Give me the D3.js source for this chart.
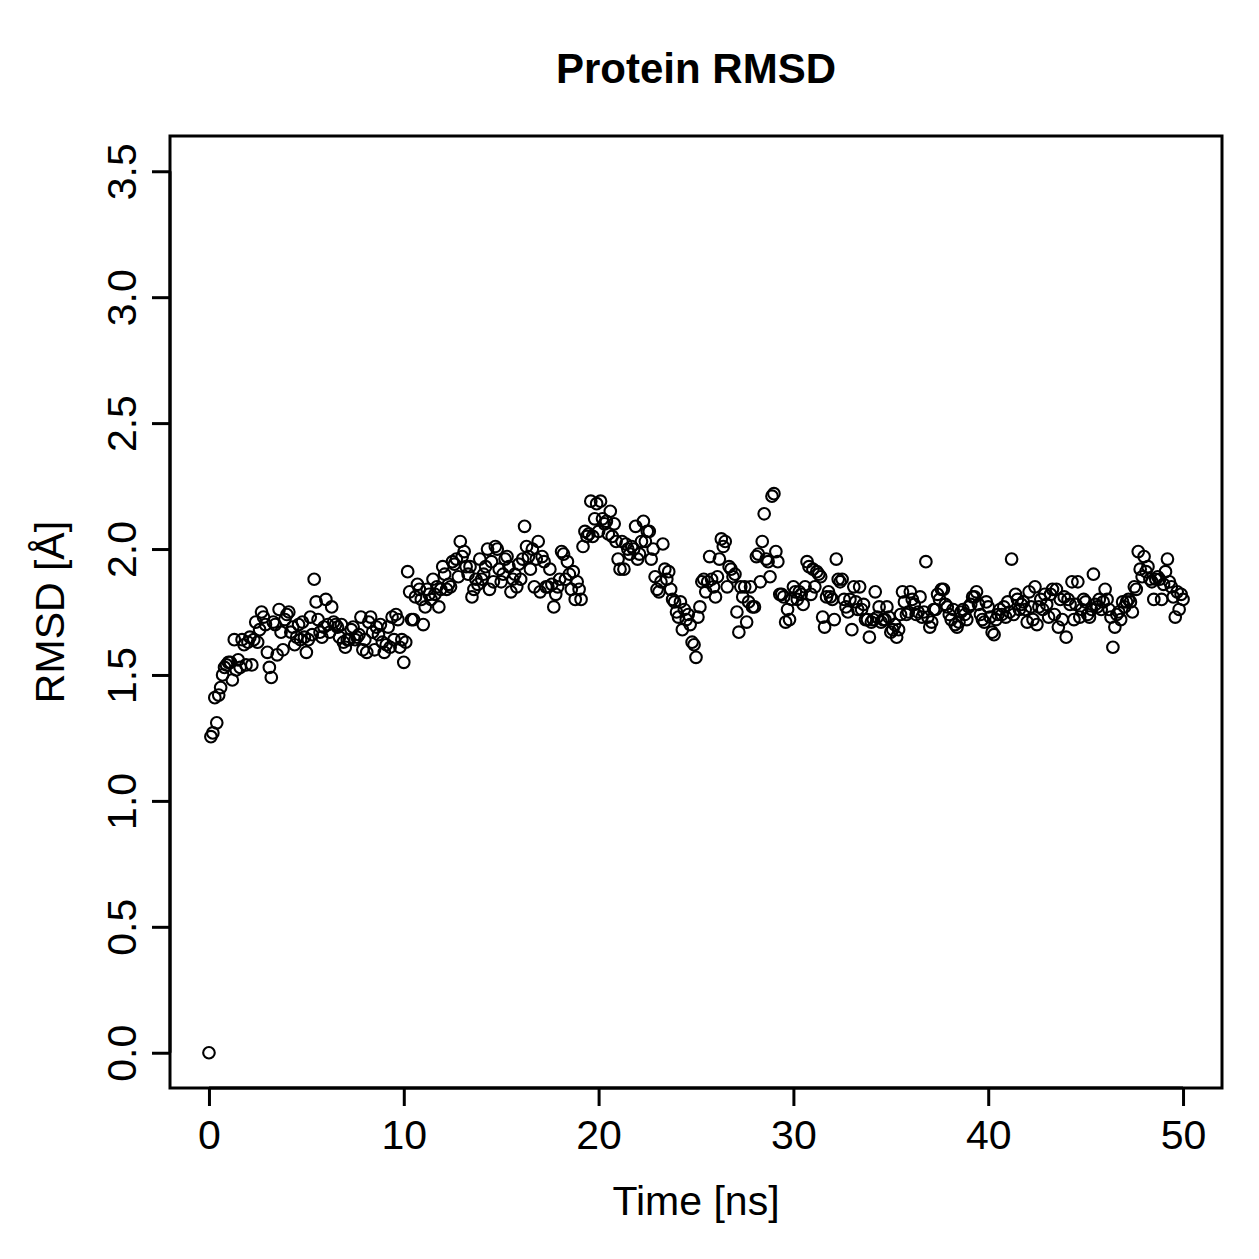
<!DOCTYPE html>
<html>
<head>
<meta charset="utf-8">
<script src="https://cdn.jsdelivr.net/npm/d3@7"></script>
<style>
  html, body { margin: 0; padding: 0; background: #fff; }
  svg { display: block; }
  text { font-family: "Liberation Sans", Arial, Helvetica, sans-serif; fill: #000; }
</style>
</head>
<body>
<svg id="chart" width="1259" height="1259"></svg>
<script>
// ---- data ----
const chartTitle = "Protein RMSD";
const xLabel = "Time [ns]";
const yLabel = "RMSD [Å]";
const timeStep = 0.1; // ns between frames, starting at 0
const xTicks = [0, 10, 20, 30, 40, 50];
const yTicks = [0.0, 0.5, 1.0, 1.5, 2.0, 2.5, 3.0, 3.5];
const yTickLabels = ["0.0", "0.5", "1.0", "1.5", "2.0", "2.5", "3.0", "3.5"];
const xLimits = [0, 50];
const yLimits = [0, 3.5];
const rmsd = [
  0.00, 1.255, 1.27, 1.41, 1.31, 1.42, 1.45, 1.50, 1.53, 1.54,
  1.55, 1.55, 1.48, 1.64, 1.52, 1.56, 1.53, 1.64, 1.62, 1.54,
  1.63, 1.65, 1.54, 1.64, 1.71, 1.63, 1.68, 1.75, 1.73, 1.70,
  1.59, 1.53, 1.49, 1.71, 1.70, 1.58, 1.76, 1.67, 1.60, 1.72,
  1.74, 1.75, 1.67, 1.69, 1.62, 1.65, 1.70, 1.64, 1.71, 1.65,
  1.59, 1.64, 1.73, 1.66, 1.88, 1.79, 1.72, 1.67, 1.65, 1.69,
  1.80, 1.70, 1.67, 1.77, 1.71, 1.70, 1.69, 1.65, 1.70, 1.63,
  1.61, 1.64, 1.64, 1.68, 1.69, 1.64, 1.65, 1.66, 1.73, 1.60,
  1.64, 1.59, 1.71, 1.73, 1.67, 1.60, 1.69, 1.66, 1.70, 1.63,
  1.59, 1.62, 1.69, 1.61, 1.73, 1.64, 1.74, 1.72, 1.61, 1.64,
  1.55, 1.63, 1.91, 1.83, 1.72, 1.72, 1.81, 1.86, 1.84, 1.80,
  1.70, 1.77, 1.84, 1.82, 1.80, 1.88, 1.82, 1.85, 1.77, 1.84,
  1.93, 1.90, 1.84, 1.86, 1.85, 1.95, 1.94, 1.96, 1.89, 2.03,
  1.97, 1.99, 1.93, 1.90, 1.93, 1.81, 1.84, 1.88, 1.86, 1.96,
  1.88, 1.90, 1.93, 2.00, 1.84, 1.95, 1.87, 2.01, 2.00, 1.92,
  1.87, 1.90, 1.96, 1.97, 1.93, 1.83, 1.88, 1.90, 1.85, 1.94,
  1.88, 1.96, 2.09, 2.01, 1.97, 1.92, 2.00, 1.85, 1.96, 2.03,
  1.83, 1.97, 1.95, 1.85, 1.85, 1.92, 1.86, 1.77, 1.82, 1.85,
  1.88, 1.99, 1.98, 1.88, 1.95, 1.90, 1.84, 1.91, 1.80, 1.87,
  1.84, 1.80, 2.01, 2.07, 2.05, 2.06, 2.19, 2.05, 2.12, 2.18,
  2.07, 2.19, 2.12, 2.10, 2.11, 2.06, 2.15, 2.05, 2.10, 2.03,
  1.96, 1.92, 2.03, 1.92, 2.02, 2.00, 1.98, 2.01, 2.00, 2.09,
  1.96, 1.98, 2.03, 2.11, 2.03, 2.07, 2.07, 1.96, 2.00, 1.89,
  1.84, 1.83, 1.87, 2.02, 1.92, 1.88, 1.91, 1.84, 1.80, 1.79,
  1.75, 1.73, 1.79, 1.68, 1.76, 1.72, 1.74, 1.70, 1.63, 1.62,
  1.57, 1.73, 1.77, 1.87, 1.88, 1.83, 1.87, 1.97, 1.88, 1.85,
  1.81, 1.89, 1.96, 2.04, 2.01, 2.03, 1.85, 1.93, 1.92, 1.89,
  1.90, 1.75, 1.67, 1.85, 1.81, 1.85, 1.71, 1.79, 1.85, 1.77,
  1.77, 1.97, 1.98, 1.87, 2.03, 2.14, 1.96, 1.95, 1.89, 2.21,
  2.22, 1.99, 1.95, 1.82, 1.82, 1.81, 1.71, 1.76, 1.72, 1.80,
  1.85, 1.83, 1.80, 1.83, 1.82, 1.78, 1.85, 1.95, 1.93, 1.82,
  1.92, 1.85, 1.91, 1.90, 1.89, 1.73, 1.69, 1.81, 1.83, 1.81,
  1.80, 1.72, 1.96, 1.88, 1.87, 1.88, 1.80, 1.77, 1.75, 1.80,
  1.68, 1.85, 1.79, 1.76, 1.85, 1.76, 1.78, 1.72, 1.72, 1.65,
  1.71, 1.72, 1.83, 1.73, 1.77, 1.71, 1.72, 1.72, 1.77, 1.73,
  1.67, 1.68, 1.70, 1.65, 1.68, 1.74, 1.83, 1.79, 1.74, 1.75,
  1.83, 1.80, 1.78, 1.74, 1.75, 1.81, 1.73, 1.75, 1.95, 1.73,
  1.69, 1.71, 1.76, 1.76, 1.82, 1.80, 1.84, 1.84, 1.78, 1.77,
  1.74, 1.72, 1.76, 1.70, 1.69, 1.71, 1.75, 1.76, 1.74, 1.72,
  1.77, 1.78, 1.81, 1.81, 1.83, 1.78, 1.74, 1.72, 1.71, 1.79,
  1.77, 1.73, 1.67, 1.66, 1.72, 1.74, 1.76, 1.74, 1.77, 1.73,
  1.79, 1.75, 1.96, 1.74, 1.82, 1.80, 1.76, 1.78, 1.79, 1.76,
  1.71, 1.83, 1.77, 1.72, 1.85, 1.70, 1.77, 1.80, 1.76, 1.82,
  1.78, 1.73, 1.82, 1.84, 1.74, 1.84, 1.69, 1.80, 1.72, 1.81,
  1.65, 1.80, 1.78, 1.87, 1.72, 1.78, 1.87, 1.73, 1.76, 1.80,
  1.79, 1.74, 1.73, 1.76, 1.90, 1.78, 1.77, 1.80, 1.76, 1.79,
  1.84, 1.80, 1.76, 1.73, 1.61, 1.69, 1.74, 1.75, 1.72, 1.79,
  1.77, 1.79, 1.80, 1.79, 1.75, 1.85, 1.84, 1.99, 1.92, 1.89,
  1.97, 1.91, 1.93, 1.88, 1.87, 1.80, 1.88, 1.89, 1.88, 1.80,
  1.86, 1.91, 1.96, 1.87, 1.85, 1.81, 1.73, 1.83, 1.76, 1.82,
  1.80
];

// ---- layout ----
const svg = d3.select("#chart");
const plot = { left: 170, right: 1222, top: 136, bottom: 1088 };
const padX = (xLimits[1] - xLimits[0]) * 0.04;
const padY = (yLimits[1] - yLimits[0]) * 0.04;

const x = d3.scaleLinear()
  .domain([xLimits[0] - padX, xLimits[1] + padX])
  .range([plot.left, plot.right]);
const y = d3.scaleLinear()
  .domain([yLimits[0] - padY, yLimits[1] + padY])
  .range([plot.bottom, plot.top]);

const points = rmsd.map((v, i) => ({ t: +(i * timeStep).toFixed(1), v }));

// points
svg.append("g")
  .selectAll("circle")
  .data(points)
  .enter().append("circle")
  .attr("cx", d => x(d.t))
  .attr("cy", d => y(d.v))
  .attr("r", 5.8)
  .attr("fill", "none")
  .attr("stroke", "#000")
  .attr("stroke-width", 2.1);

// box
svg.append("rect")
  .attr("x", plot.left).attr("y", plot.top)
  .attr("width", plot.right - plot.left)
  .attr("height", plot.bottom - plot.top)
  .attr("fill", "none").attr("stroke", "#000").attr("stroke-width", 3);

// x axis
const xAxis = d3.axisBottom(x).tickValues(xTicks).tickSize(18).tickPadding(12)
  .tickFormat(d3.format("d"));
const gx = svg.append("g").attr("transform", `translate(0,${plot.bottom})`).call(xAxis);
gx.select(".domain").attr("d", `M${x(xTicks[0])},0H${x(xTicks[xTicks.length-1])}`)
  .attr("stroke-width", 3);
gx.selectAll(".tick line").attr("stroke-width", 3);
gx.selectAll(".tick text")
  .attr("font-size", 41)
  .style("font-family", '"Liberation Sans", Arial, sans-serif')
  .attr("fill", "#000")
  .attr("dy", null)
  .attr("y", 61);

// y axis
const yAxis = d3.axisLeft(y).tickValues(yTicks).tickSize(18)
  .tickFormat((d, i) => yTickLabels[i]);
const gy = svg.append("g").attr("transform", `translate(${plot.left},0)`).call(yAxis);
gy.select(".domain").attr("d", `M0,${y(yTicks[0])}V${y(yTicks[yTicks.length-1])}`)
  .attr("stroke-width", 3);
gy.selectAll(".tick line").attr("stroke-width", 3);
gy.selectAll(".tick text")
  .attr("font-size", 41)
  .style("font-family", '"Liberation Sans", Arial, sans-serif')
  .attr("fill", "#000")
  .attr("x", null).attr("dy", null)
  .attr("text-anchor", "middle")
  .attr("transform", "translate(-34,0) rotate(-90)");

// title
svg.append("text")
  .attr("x", (plot.left + plot.right) / 2)
  .attr("y", 83)
  .attr("text-anchor", "middle")
  .attr("font-size", 42)
  .attr("font-weight", "bold")
  .text(chartTitle);

// x label
svg.append("text")
  .attr("x", (plot.left + plot.right) / 2)
  .attr("y", 1215)
  .attr("text-anchor", "middle")
  .attr("font-size", 41)
  .text(xLabel);

// y label
svg.append("text")
  .attr("transform", `translate(64,${(plot.top + plot.bottom) / 2}) rotate(-90)`)
  .attr("text-anchor", "middle")
  .attr("font-size", 41)
  .text(yLabel);
</script>
</body>
</html>
